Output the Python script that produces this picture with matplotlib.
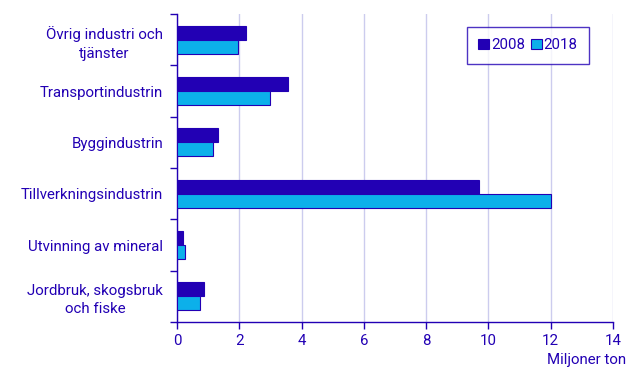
import numpy as np
import matplotlib.pyplot as plt

# Data (million tonnes)
categories = ["Övrig industri och\ntjänster", "Transportindustrin", "Byggindustrin",
              "Tillverkningsindustrin", "Utvinning av mineral",
              "Jordbruk, skogsbruk\noch fiske"]
values_2008 = [2.23, 3.58, 1.33, 9.71, 0.20, 0.88]
values_2018 = [1.96, 2.99, 1.16, 12.01, 0.26, 0.74]
series_labels = ["2008", "2018"]

text_color = "#2200b4"
col_2008 = "#2200b4"
col_2018 = "#0cb0ea"

plt.rcParams['font.family'] = ['Roboto', 'DejaVu Sans']

fig = plt.figure(figsize=(6.35, 3.68), dpi=100)
ax = fig.add_axes([177 / 635, 1 - 322 / 368, 436 / 635, 308 / 368])

n = len(categories)
y = np.arange(n)
h = 0.27
ax.barh(y - h / 2, values_2008, height=h, color=col_2008, edgecolor=text_color,
        linewidth=0.8, label=series_labels[0], zorder=3)
ax.barh(y + h / 2, values_2018, height=h, color=col_2018, edgecolor=text_color,
        linewidth=0.8, label=series_labels[1], zorder=3)

ax.set_ylim(n - 0.5, -0.5)
ax.set_xlim(0, 14)
ax.set_xticks(np.arange(0, 15, 2))
ax.set_yticks(y)
ax.set_yticklabels(categories, color=text_color, fontsize=10.8,
                   multialignment='center', linespacing=1.4)
ax.set_yticks(np.arange(-0.5, n, 1), minor=True)
ax.tick_params(axis='y', which='major', length=0, pad=10)
ax.tick_params(axis='y', which='minor', length=5, color=text_color, width=1)
ax.tick_params(axis='x', length=5, color=text_color, width=1, labelcolor=text_color,
               labelsize=10.8)

ax.grid(axis='x', color='#ccccee', linewidth=1, zorder=0)
for pos in ['top', 'right']:
    ax.spines[pos].set_visible(False)
for pos in ['left', 'bottom']:
    ax.spines[pos].set_color(text_color)
    ax.spines[pos].set_linewidth(1)

ax.text(1.03, -0.1, "Miljoner ton", transform=ax.transAxes, ha='right', va='top',
        color=text_color, fontsize=10.8)

leg = ax.legend(loc='upper left', bbox_to_anchor=(290 / 436, 1 - 13 / 308), ncol=2,
                frameon=True, fancybox=False, handlelength=0.7, handleheight=0.7,
                handletextpad=0.15, columnspacing=0.4, borderpad=0.75,
                borderaxespad=0, fontsize=10.8)
leg.get_frame().set_edgecolor(text_color)
leg.get_frame().set_linewidth(1)
for t in leg.get_texts():
    t.set_color(text_color)

fig.savefig("out.png", dpi=100)
